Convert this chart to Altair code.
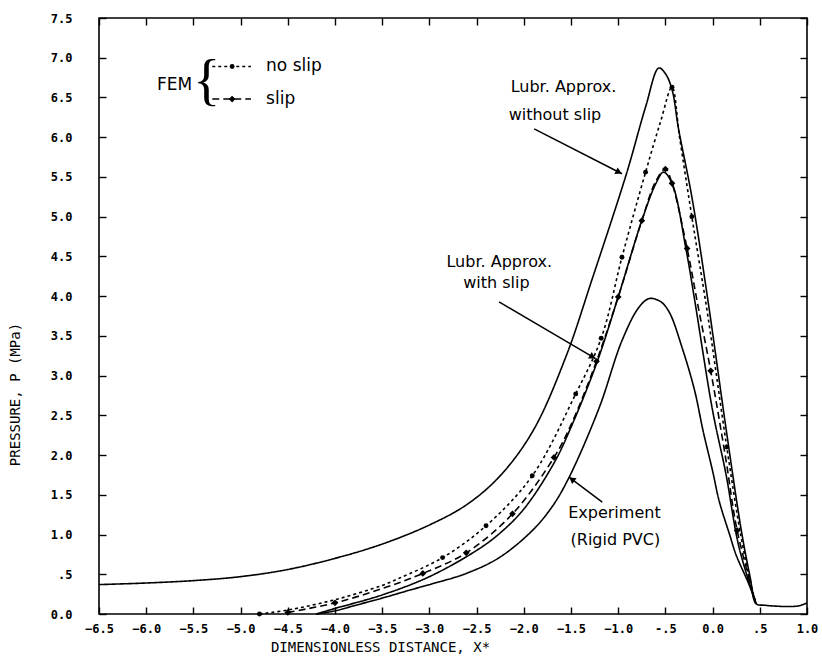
import math
import altair as alt
import pandas as pd

# ---------------- data ----------------
X_TICKS = [-6.5, -6.0, -5.5, -5.0, -4.5, -4.0, -3.5, -3.0, -2.5, -2.0, -1.5, -1.0, -0.5, 0.0, 0.5, 1.0]
Y_TICKS = [0.0, 0.5, 1.0, 1.5, 2.0, 2.5, 3.0, 3.5, 4.0, 4.5, 5.0, 5.5, 6.0, 6.5, 7.0, 7.5]

# Lubrication approximation without slip (solid)
LUBR_NOSLIP_X = [-6.5, -6.0, -5.5, -5.0, -4.5, -4.0, -3.5, -3.0, -2.6, -2.25, -1.9, -1.55, -1.28,
                 -0.91, -0.71, -0.57, -0.5, -0.43, -0.36, -0.22, -0.05, 0.15, 0.31, 0.4, 0.46,
                 0.55, 0.9, 1.0]
LUBR_NOSLIP_Y = [0.37, 0.39, 0.42, 0.47, 0.56, 0.70, 0.88, 1.12, 1.38, 1.74, 2.31, 3.25, 4.20,
                 5.55, 6.38, 6.87, 6.80, 6.60, 6.10, 5.25, 3.95, 2.27, 1.01, 0.45, 0.13,
                 0.11, 0.10, 0.14]

# Lubrication approximation with slip (solid)
LUBR_SLIP_X = [-4.2, -4.0, -3.5, -3.0, -2.5, -2.26, -2.0, -1.68, -1.5, -1.23, -1.0, -0.75, -0.6,
               -0.52, -0.43, -0.28, -0.19, 0.0, 0.14, 0.28, 0.46]
LUBR_SLIP_Y = [0.0, 0.07, 0.24, 0.47, 0.80, 1.01, 1.32, 1.90, 2.35, 3.15, 3.99, 4.95, 5.42,
               5.56, 5.42, 4.58, 3.95, 2.56, 1.77, 0.84, 0.13]

# Experiment (Rigid PVC) (solid)
EXPER_X = [-4.2, -4.0, -3.78, -3.5, -3.21, -2.97, -2.61, -2.26, -1.91, -1.7, -1.52, -1.2, -0.96,
           -0.78, -0.67, -0.55, -0.46, -0.32, -0.19, -0.1, 0.0, 0.07, 0.18, 0.25, 0.39, 0.46]
EXPER_Y = [0.0, 0.04, 0.11, 0.20, 0.30, 0.38, 0.51, 0.71, 1.05, 1.35, 1.72, 2.60, 3.44,
           3.86, 3.97, 3.93, 3.80, 3.34, 2.81, 2.30, 1.80, 1.42, 1.00, 0.74, 0.36, 0.13]

# FEM, no slip (short dashes)
FEM_NOSLIP_X = [-4.8, -4.5, -4.0, -3.5, -3.32, -2.86, -2.4, -1.91, -1.45, -1.18, -0.96, -0.71,
                -0.55, -0.43, -0.35, -0.22, -0.05, 0.15, 0.3, 0.4, 0.46]
FEM_NOSLIP_Y = [0.0, 0.05, 0.18, 0.36, 0.45, 0.71, 1.11, 1.74, 2.77, 3.47, 4.49, 5.56,
                6.20, 6.63, 6.00, 5.00, 3.75, 2.10, 0.98, 0.40, 0.13]

# FEM, slip (long dashes)
FEM_SLIP_X = [-4.5, -4.0, -3.5, -3.07, -2.61, -2.12, -1.68, -1.5, -1.23, -1.0, -0.75, -0.6,
              -0.5, -0.43, -0.27, -0.15, -0.02, 0.14, 0.26, 0.46]
FEM_SLIP_Y = [0.02, 0.14, 0.32, 0.51, 0.77, 1.26, 1.97, 2.38, 3.18, 3.99, 4.95, 5.45,
              5.60, 5.42, 4.60, 3.85, 3.06, 1.95, 1.05, 0.13]

# FEM computed points (markers)
NOSLIP_MARK_X = [-4.8, -2.86, -2.4, -1.91, -1.45, -1.18, -0.96, -0.71, -0.43, -0.22, 0.15]
NOSLIP_MARK_Y = [0.0, 0.71, 1.11, 1.74, 2.77, 3.47, 4.49, 5.56, 6.63, 5.00, 2.10]
SLIP_MARK_X = [-4.5, -4.0, -3.07, -2.61, -2.12, -1.68, -1.23, -1.0, -0.75, -0.5, -0.43, -0.27, -0.02, 0.26]
SLIP_MARK_Y = [0.02, 0.14, 0.51, 0.77, 1.26, 1.97, 3.18, 3.99, 4.95, 5.60, 5.42, 4.60, 3.06, 1.05]

# Legend (FEM { --o-- no slip / --<>-- slip)
LEG_LABELS = ["no slip", "slip"]
LEG_Y = [6.89, 6.48]
LEG_X0 = -5.30
LEG_X1 = -4.89
LEG_MARK_X = -5.09
LEG_TEXT_X = -4.73
FEM_TEXT = ["FEM"]
FEM_X = [-5.70]
FEM_Y = [6.66]
BRACE_TEXT = ["{"]
BRACE_X = [-5.36]
BRACE_Y = [6.69]

# Annotations
ANNOT_TEXT = ["Lubr. Approx.", "without slip", "Lubr. Approx.", "with slip", "Experiment", "(Rigid PVC)"]
ANNOT_X = [-1.58, -1.67, -2.26, -2.29, -1.04, -1.03]
ANNOT_Y = [6.635, 6.28, 4.43, 4.16, 1.266, 0.926]

# Arrows: start -> tip
ARROW_X0 = [-1.89, -2.262, -1.169]
ARROW_Y0 = [6.104, 3.927, 1.408]
ARROW_X1 = [-0.96, -1.239, -1.521]
ARROW_Y1 = [5.54, 3.214, 1.723]

# ---------------- layout ----------------
W, H = 708, 596
PX_X = W / (X_TICKS[-1] - X_TICKS[0])
PX_Y = H / (Y_TICKS[-1] - Y_TICKS[0])

XS = alt.Scale(domain=[X_TICKS[0], X_TICKS[-1]], nice=False, zero=False)
YS = alt.Scale(domain=[Y_TICKS[0], Y_TICKS[-1]], nice=False, zero=False)

MONO = "DejaVu Sans Mono"
SANS = "DejaVu Sans"

AX_X = alt.Axis(values=X_TICKS, ticks=False, domain=False, grid=False,
                labelPadding=9, labelFont=MONO, labelFontSize=12, labelFontWeight="bold",
                labelColor="black", labelFlush=False, labelOverlap=False,
                labelExpr="datum.value == 0.5 ? '.5' : (datum.value == -0.5 ? '-.5' : format(datum.value, '.1f'))",
                title="DIMENSIONLESS DISTANCE, X*", titleFont=MONO, titleFontSize=14,
                titleFontWeight="normal", titleColor="black", titleX=281, titleY=33,
                titleAlign="center", titleBaseline="middle")
AX_Y = alt.Axis(values=Y_TICKS, ticks=False, domain=False, grid=False,
                labelPadding=27, labelFont=MONO, labelFontSize=12, labelFontWeight="bold",
                labelColor="black", labelFlush=False, labelOverlap=False,
                labelExpr="datum.value == 0.5 ? '.5' : format(datum.value, '.1f')",
                title="PRESSURE, P (MPa)", titleFont=MONO, titleFontSize=14,
                titleFontWeight="normal", titleColor="black", titleAngle=270,
                titleX=-84, titleY=376, titleAlign="center", titleBaseline="middle")


def X(field="x"):
    return alt.X(f"{field}:Q", scale=XS, axis=AX_X)


def Y(field="y"):
    return alt.Y(f"{field}:Q", scale=YS, axis=AX_Y)


def series(name, xs, ys):
    return pd.DataFrame({"series": name, "order": list(range(len(xs))), "x": xs, "y": ys})


curves = pd.concat([
    series("lubr_noslip", LUBR_NOSLIP_X, LUBR_NOSLIP_Y),
    series("lubr_slip", LUBR_SLIP_X, LUBR_SLIP_Y),
    series("experiment", EXPER_X, EXPER_Y),
    series("fem_noslip", FEM_NOSLIP_X, FEM_NOSLIP_Y),
    series("fem_slip", FEM_SLIP_X, FEM_SLIP_Y),
    series("leg_noslip", [LEG_X0, LEG_X1], [LEG_Y[0], LEG_Y[0]]),
    series("leg_slip", [LEG_X0, LEG_X1], [LEG_Y[1], LEG_Y[1]]),
], ignore_index=True)

DASHES = {"lubr_noslip": [1, 0], "lubr_slip": [1, 0], "experiment": [1, 0],
          "fem_noslip": [3, 3], "fem_slip": [7, 4], "leg_noslip": [3, 3], "leg_slip": [7, 4]}

lines = alt.Chart(curves).mark_line(color="black", strokeWidth=1.6, interpolate="catmull-rom").encode(
    x=X(), y=Y(), detail="series:N", order="order:Q",
    strokeDash=alt.StrokeDash("series:N", scale=alt.Scale(domain=list(DASHES.keys()),
                                                          range=list(DASHES.values())), legend=None),
)

circ_df = pd.DataFrame({"x": NOSLIP_MARK_X + [LEG_MARK_X], "y": NOSLIP_MARK_Y + [LEG_Y[0]]})
diam_df = pd.DataFrame({"x": SLIP_MARK_X + [LEG_MARK_X], "y": SLIP_MARK_Y + [LEG_Y[1]]})
circles = alt.Chart(circ_df).mark_point(shape="circle", filled=True, color="black", opacity=1, size=24).encode(x=X(), y=Y())
diamonds = alt.Chart(diam_df).mark_point(shape="diamond", filled=True, color="black", opacity=1, size=45).encode(x=X(), y=Y())

annot_df = pd.DataFrame({"x": ANNOT_X, "y": ANNOT_Y, "t": ANNOT_TEXT})
annots = alt.Chart(annot_df).mark_text(font=SANS, fontSize=16, color="black", align="center",
                                       baseline="middle").encode(x=X(), y=Y(), text="t:N")

fem_df = pd.DataFrame({"x": FEM_X, "y": FEM_Y, "t": FEM_TEXT})
fem = alt.Chart(fem_df).mark_text(font=SANS, fontSize=17, color="black", align="center",
                                  baseline="middle").encode(x=X(), y=Y(), text="t:N")
brace_df = pd.DataFrame({"x": BRACE_X, "y": BRACE_Y, "t": BRACE_TEXT})
brace = alt.Chart(brace_df).mark_text(font="Liberation Serif", fontSize=57, color="black", align="center",
                                      baseline="middle").encode(x=X(), y=Y(), text="t:N")
leg_df = pd.DataFrame({"x": [LEG_TEXT_X] * len(LEG_LABELS), "y": LEG_Y, "t": LEG_LABELS})
leg_text = alt.Chart(leg_df).mark_text(font=SANS, fontSize=17, color="black", align="left",
                                       baseline="middle").encode(x=X(), y=Y(), text="t:N")

# arrows
arrow_df = pd.DataFrame({"x": ARROW_X0, "y": ARROW_Y0, "x2": ARROW_X1, "y2": ARROW_Y1})
head_rows = []
for x0, y0, x1, y1 in zip(ARROW_X0, ARROW_Y0, ARROW_X1, ARROW_Y1):
    dxp = (x1 - x0) * PX_X
    dyp = -(y1 - y0) * PX_Y
    ln = math.hypot(dxp, dyp)
    ang = math.degrees(math.atan2(dyp, dxp)) % 360
    back = 3.5
    hx = x1 - back * dxp / ln / PX_X
    hy = y1 + back * dyp / ln / PX_Y
    head_rows.append({"x": hx, "y": hy, "angle": ang})
head_df = pd.DataFrame(head_rows)

arrow_lines = alt.Chart(arrow_df).mark_rule(color="black", strokeWidth=1.5).encode(
    x=X(), y=Y(), x2="x2:Q", y2="y2:Q")
arrow_heads = alt.Chart(head_df).mark_point(shape="triangle-right", filled=True, color="black",
                                            opacity=1, size=55).encode(
    x=X(), y=Y(), angle=alt.Angle("angle:Q", scale=None))

main = alt.layer(lines, circles, diamonds, arrow_lines, arrow_heads, annots, fem, brace, leg_text)

# inward tick marks on all four sides
dummy = pd.DataFrame({"x": [X_TICKS[0], X_TICKS[-1]], "y": [Y_TICKS[0], Y_TICKS[-1]]})


def tick_axis(orient, offset, values):
    return alt.Axis(orient=orient, offset=offset, values=values, labels=False, domain=False,
                    grid=False, ticks=True, tickSize=7, tickWidth=1.4, tickColor="black", title="")


ticks1 = alt.Chart(dummy).mark_point(opacity=0).encode(
    x=alt.X("x:Q", scale=XS, axis=tick_axis("top", -H, X_TICKS)),
    y=alt.Y("y:Q", scale=YS, axis=tick_axis("right", -W, Y_TICKS)))
ticks2 = alt.Chart(dummy).mark_point(opacity=0).encode(
    x=alt.X("x:Q", scale=XS, axis=tick_axis("bottom", -H, X_TICKS)),
    y=alt.Y("y:Q", scale=YS, axis=tick_axis("left", -W, Y_TICKS)))

chart = alt.layer(main, ticks1, ticks2).resolve_scale(
    x="independent", y="independent").resolve_axis(x="independent", y="independent").properties(
    width=W, height=H, autosize="none",
    padding={"left": 99, "top": 18, "right": 15, "bottom": 43},
).configure_view(stroke="black", strokeWidth=1.6)

chart.save("out.html", embed_options={"renderer": "svg", "actions": False})
